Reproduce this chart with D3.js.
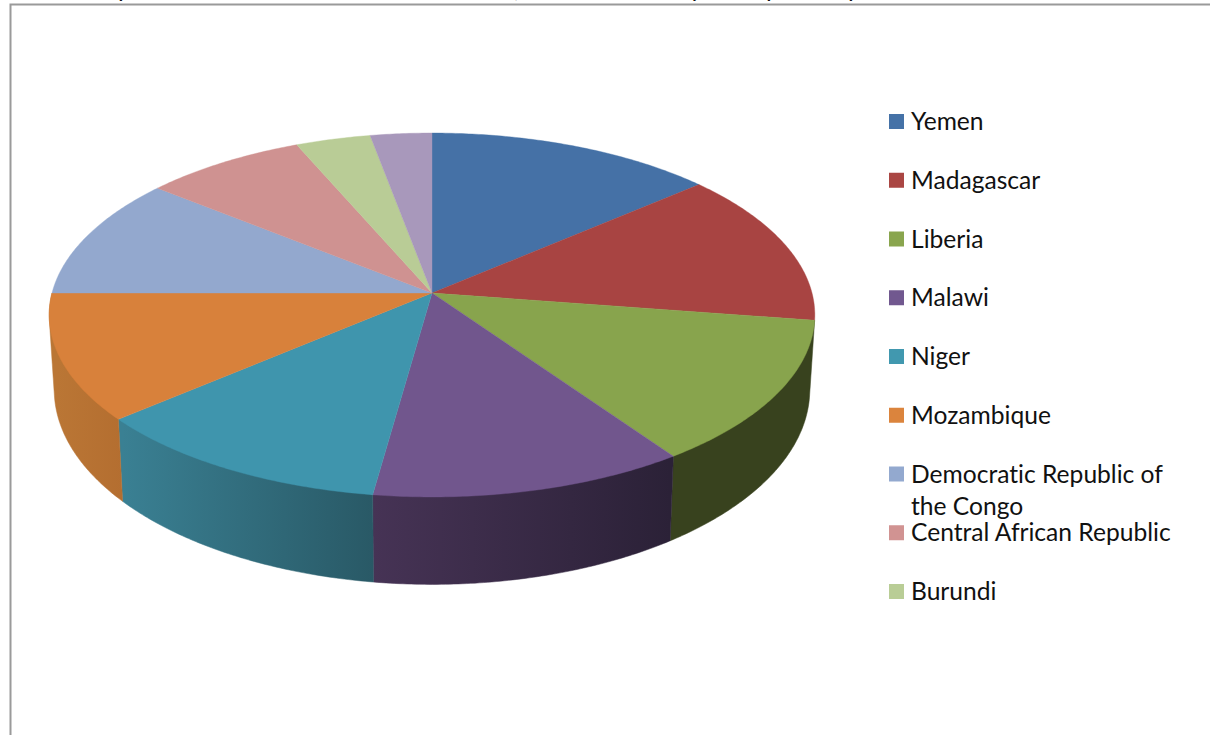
<!DOCTYPE html>
<html><head><meta charset="utf-8">
<script src="https://cdn.jsdelivr.net/npm/d3@7"></script>
<style>html,body{margin:0;padding:0;background:#fff;overflow:hidden}svg{display:block}text{font-variant-ligatures:none}</style>
</head><body><svg id="c" width="1210" height="735"></svg>
<script>
const categories = ["Yemen","Madagascar","Liberia","Malawi","Niger","Mozambique","Democratic Republic of the Congo","Central African Republic","Burundi","Other"];
const values = [49.3,49.3,46.5,42.8,41.6,40.5,39,27.7,12.8,10.5];
const colors = ["#4572A7","#AA4643","#89A54E","#71588F","#4198AF","#DB843D","#93A9CF","#D19392","#B9CD96","#A99BBD"];
const topColors = ["#4571A6","#A84442","#88A44D","#71568D","#3F95AD","#D8813B","#93A8CE","#CF9291","#B9CC96","#A898BB"];
const sideFrom = ["#36587f","#7f3433","#38421E","#463355","#3A8093","#BA7635","#6f819e","#9f7170","#8c9b72","#80748e"];
const sideTo   = ["#36587f","#7f3433","#38421E","#2B2137","#295966","#B46E30","#6f819e","#9f7170","#8c9b72","#80748e"];
const legendItems = categories.slice(0,9);
const residue = [["p",118],[",",514],["y",690],["p",766],["p",848]];

const svg = d3.select("#c");
const defs = svg.append("defs");
const cx = 432, k = 0.1209;
const topDisc = {y0:293, A:179.3, B:380};
const botDisc = {y0:366, A:192, B:375};
const project = (d,t) => {
  const X=Math.sin(t), Y=Math.cos(t), w=1+k*Y;
  return [cx+d.B*X/w, d.y0-d.A*Y/w];
};
const arcPts = (d,a,b) => {
  const n=Math.max(2,Math.ceil(Math.abs(b-a)/0.01));
  return d3.range(n+1).map(i=>project(d,a+(b-a)*i/n));
};
const line = d3.line();
const pie = d3.pie().sort(null).value(d=>d)(values);

// frame
svg.append("path").attr("d","M10.5,735V4.5H1210").attr("fill","none").attr("stroke","#9a9a9a").attr("stroke-width",2);

// sides, painted first
const g = svg.append("g");
pie.forEach((s,i)=>{
  if (s.startAngle<Math.PI/2 || s.startAngle>=Math.PI*1.49) return;
  const p0=project(botDisc,s.startAngle), p1=project(botDisc,s.endAngle);
  const id="side"+i;
  const lg=defs.append("linearGradient").attr("id",id).attr("gradientUnits","userSpaceOnUse")
    .attr("x1",Math.min(p0[0],p1[0])).attr("x2",Math.max(p0[0],p1[0])).attr("y1",0).attr("y2",0);
  lg.append("stop").attr("offset",0).attr("stop-color",sideFrom[i]);
  lg.append("stop").attr("offset",1).attr("stop-color",sideTo[i]);
  const pts=d3.polygonHull(arcPts(topDisc,s.startAngle,s.endAngle).concat(arcPts(botDisc,s.endAngle,s.startAngle)));
  g.append("path").attr("d",line(pts)+"Z").attr("fill",`url(#${id})`).attr("stroke",`url(#${id})`).attr("stroke-width",0.5);
});
// top faces
pie.forEach((s,i)=>{
  const pts=[[cx,topDisc.y0]].concat(arcPts(topDisc,s.startAngle,s.endAngle));
  g.append("path").attr("d",line(pts)+"Z").attr("fill",topColors[i]).attr("stroke",topColors[i]).attr("stroke-width",0.4);
});

// legend
const ly = d3.scalePoint().domain(legendItems).range([129,599]);
const lg = svg.append("g").attr("font-family","Lato, Carlito, sans-serif").attr("font-size",24.6).attr("fill","#111");
legendItems.forEach((c,i)=>{
  const y=ly(c);
  lg.append("rect").attr("x",889).attr("y",y-15).attr("width",15).attr("height",15).attr("fill",colors[i]);
  if(c.startsWith("Democratic")){
    lg.append("text").attr("x",911).attr("y",y+1).text("Democratic Republic of");
    lg.append("text").attr("x",911).attr("y",y+33).text("the Congo");
  } else lg.append("text").attr("x",911).attr("y",y+1).text(c);
});
// cut-off line of text above the chart
residue.forEach(([t,x])=>svg.append("text").attr("x",x).attr("y",-3).attr("font-family","Lato, sans-serif").attr("font-size",25).attr("fill","#111").text(t));
</script></body></html>
